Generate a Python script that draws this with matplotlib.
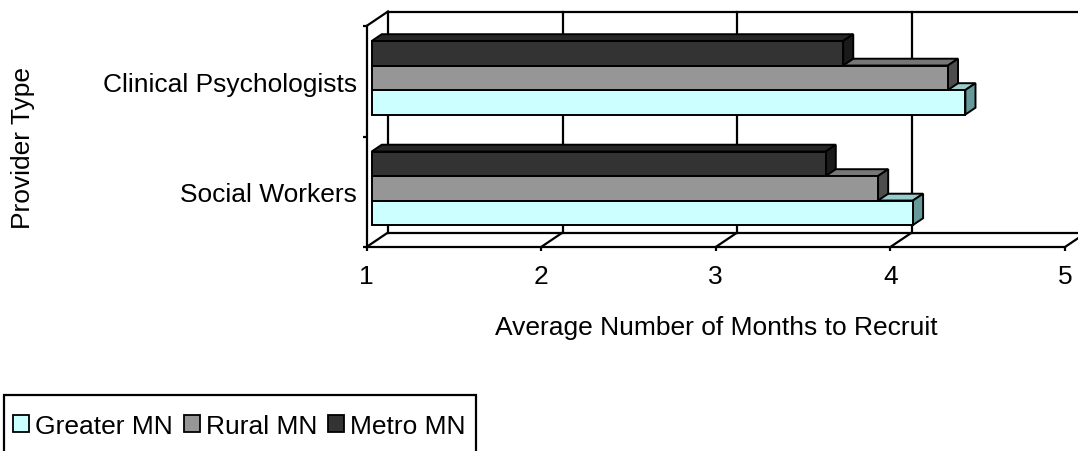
import matplotlib
matplotlib.use("Agg")
import matplotlib.pyplot as plt
from matplotlib.patches import Polygon, Patch, Rectangle

plt.rcParams['font.family'] = ['Liberation Sans', 'DejaVu Sans']
plt.rcParams['font.size'] = 19

# Average months to recruit, by provider type (bottom to top) and region
providers = ['Social Workers', 'Clinical Psychologists']
regions = ['Greater MN', 'Rural MN', 'Metro MN']
greater_mn = [4.1, 4.4]
rural_mn = [3.9, 4.3]
metro_mn = [3.6, 3.7]
x_ticks = [1, 2, 3, 4, 5]

# face colours for each series: front, top, side
front_colors = ['#CCFFFF', '#969696', '#333333']
top_colors = ['#99CCCC', '#777777', '#262626']
side_colors = ['#669999', '#4D4D4D', '#1A1A1A']

W, H = 1078, 452
fig = plt.figure(figsize=(W / 100, H / 100), dpi=100)
ax = fig.add_axes([366.5 / W, 204 / H, 698.5 / W, 221 / H])
ax.set_xlim(1, 5)
ax.set_ylim(0, 2)

# depth of the 3-D box, in data units
depth_x = 21.5 / (698.5 / 4)
depth_y = 14.5 / (221 / 2)
lw = 1.6


def at(x, y, d):
    return (x + d * depth_x, y + d * depth_y)


def line(p, q, z=1):
    ax.plot([p[0], q[0]], [p[1], q[1]], color='black', lw=lw,
            clip_on=False, zorder=z, solid_capstyle='projecting')


# back wall and floor
for v in x_ticks:
    line(at(v, 0, 1), at(v, 2, 1))
    line(at(v, 0, 0), at(v, 0, 1))
line(at(1, 2, 1), at(5.2, 2, 1))
line(at(1, 0, 1), at(5.2, 0, 1))
line(at(1, 2, 0), at(1, 2, 1))

# bars
series = [greater_mn, rural_mn, metro_mn]
bar_h = 0.2217
d0, d1 = 0.24, 0.71
z = 3
for ci in range(len(providers)):
    base = ci + 0.5 - 1.5 * bar_h
    for si, vals in enumerate(series):
        v = vals[ci]
        b, t = base + si * bar_h, base + (si + 1) * bar_h
        faces = [
            ([at(1, t, d0), at(v, t, d0), at(v, t, d1), at(1, t, d1)], top_colors[si]),
            ([at(v, b, d0), at(v, b, d1), at(v, t, d1), at(v, t, d0)], side_colors[si]),
            ([at(1, b, d0), at(v, b, d0), at(v, t, d0), at(1, t, d0)], front_colors[si]),
        ]
        for pts, col in faces:
            ax.add_patch(Polygon(pts, closed=True, facecolor=col, edgecolor='black',
                                 lw=1.4, joinstyle='miter', zorder=z, clip_on=False))
        z += 1

for s in ['top', 'right']:
    ax.spines[s].set_visible(False)
for s in ['left', 'bottom']:
    ax.spines[s].set_linewidth(lw)
    ax.spines[s].set_zorder(2)

ax.set_xticks(x_ticks)
ax.set_xticklabels([str(v) for v in x_ticks])
ax.tick_params(axis='x', direction='out', length=3, width=lw, pad=9.5)
ax.set_yticks([0, 1, 2])
ax.set_yticklabels([])
ax.set_yticks([0.5, 1.5], minor=True)
ax.set_yticklabels(providers, minor=True)
ax.tick_params(axis='y', which='major', direction='out', length=3, width=lw)
ax.tick_params(axis='y', which='minor', length=0, pad=7)

fig.text(716 / W, 1 - 335 / H, 'Average Number of Months to Recruit',
         ha='center', va='baseline')
fig.text(23 / W, 1 - 148 / H, 'Provider Type', rotation=90,
         ha='center', va='center')

# legend
fig.patches.append(Rectangle((4 / W, 1 - 458 / H), 472 / W, 62 / H,
                             transform=fig.transFigure, facecolor='white',
                             edgecolor='black', lw=lw))
handles = [Patch(facecolor=front_colors[i], edgecolor='black', lw=1.3)
           for i in range(len(regions))]
fig.legend(handles, regions, loc='center left',
           bbox_to_anchor=(13 / W, 1 - 427 / H), ncol=3, frameon=False,
           borderpad=0, borderaxespad=0, handlelength=0.6, handleheight=0.6,
           handletextpad=0.23, columnspacing=0.42)

fig.savefig('out.png', dpi=100)
